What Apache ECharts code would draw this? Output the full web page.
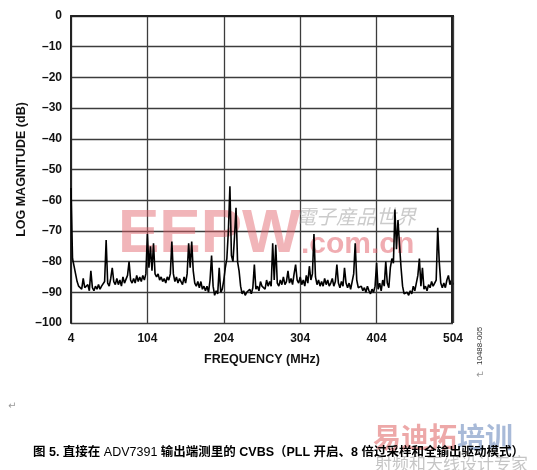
<!DOCTYPE html>
<html><head><meta charset="utf-8">
<script src="https://cdn.jsdelivr.net/npm/echarts@6/dist/echarts.min.js"></script>
<style>html,body{margin:0;padding:0;background:#fff}#c{width:537px;height:470px}</style>
</head><body><div id="c"></div>
<script>
// Frequency samples: start 4 MHz, 2 MHz apart
const startMHz = 4;
const stepMHz = 2;
// Magnitude (dB)
const magnitudeDb = [
 -56,-79,-81.5,-84,-86.5,-88,-87.5,-89,-85.5,-88.5,
 -89,-87.5,-89.5,-83,-88.5,-89.5,-88,-89,-87.5,-89,
 -88,-88.5,-86.5,-73,-87,-88,-85.5,-82,-86.5,-87.5,
 -85.5,-87.5,-86,-88,-85,-87,-86.5,-84.5,-80,-86,
 -87,-85.5,-87,-84.5,-86.5,-85,-86.5,-84.5,-86,-84,
 -71,-82,-75,-83,-74,-84,-85,-84,-86,-85,
 -86.5,-85.5,-87,-85,-86,-84,-73.5,-84,-86.5,-85,
 -87,-85.5,-86.5,-87.5,-85,-87,-84,-74,-82,-73.5,
 -83,-87,-88,-86.5,-88.5,-86.5,-89,-88,-89.5,-88,
 -90,-86,-78,-88,-91,-89.5,-90.5,-82,-90,-89,
 -86,-82,-79,-70,-55.5,-78,-80,-72,-62.5,-80,
 -83,-88,-90.5,-89.5,-91,-90,-90.5,-89,-90.5,-88.5,
 -81,-89,-88,-89.5,-86.5,-88,-87.5,-89,-86,-88,
 -86.5,-88,-74,-86,-74.5,-87,-88,-86,-87.5,-85,
 -87.5,-86.5,-83,-87,-85.5,-87.5,-84,-81,-86,-87,
 -85,-87.5,-86,-88,-84.5,-87,-81.5,-86,-84,-71,
 -85,-87.5,-86,-88,-86.5,-88,-85.5,-87.5,-86,-88,
 -87,-85.5,-88,-86.5,-81,-87,-88.5,-86.5,-88,-82,
 -87,-88.5,-87,-89,-86.5,-84,-74,-86,-88.5,-89,
 -88,-89.5,-88.5,-90,-88,-89.5,-90.5,-89,-90,-88,
 -80.5,-89,-87,-89.5,-86,-88,-80,-87,-88.5,-82,
 -79,-80.5,-63,-76,-66.5,-74.5,-82,-88,-90.5,-91,
 -90,-91,-89.5,-90.5,-88,-89.5,-87,-84.5,-79,-88,
 -82,-89,-88,-89.5,-87.5,-88.5,-86.5,-88,-87,-86,
 -69,-80,-87,-88.5,-87,-88.5,-86,-84.5,-87.5,-86,-87.5
];
const xTicks = [4, 104, 204, 304, 404, 504];
const yTicks = [0, -10, -20, -30, -40, -50, -60, -70, -80, -90, -100];

const seriesData = magnitudeDb.map((v, i) => [startMHz + i * stepMHz, v]);
const F = '"Liberation Sans", Arial, sans-serif';
const CJK = '"Liberation Sans", "Noto Sans CJK SC", sans-serif';
const chart = echarts.init(document.getElementById('c'));
chart.setOption({
  animation: false,
  backgroundColor: '#fff',
  grid: { left: 71, top: 16, right: 84, bottom: 147 },
  xAxis: {
    type: 'value', min: xTicks[0], max: xTicks[xTicks.length - 1], interval: 100,
    name: 'FREQUENCY (MHz)', nameLocation: 'middle', nameGap: 30,
    nameTextStyle: { fontFamily: F, fontWeight: 'bold', fontSize: 12.5, color: '#111' },
    axisLine: { show: true, lineStyle: { color: '#222', width: 2 } },
    axisTick: { show: false },
    axisLabel: { fontFamily: F, fontWeight: 'bold', fontSize: 12, color: '#111', margin: 10 },
    splitLine: { show: true, lineStyle: { color: '#3c3c3c', width: 1.3 } }
  },
  yAxis: {
    type: 'value', min: yTicks[yTicks.length - 1], max: yTicks[0], interval: 10,
    name: 'LOG MAGNITUDE (dB)', nameLocation: 'middle', nameGap: 43, nameRotate: 90,
    nameMoveOverlap: false,
    nameTextStyle: { fontFamily: F, fontWeight: 'bold', fontSize: 12.5, color: '#111' },
    axisLine: { show: true, lineStyle: { color: '#222', width: 2 } },
    axisTick: { show: false },
    axisLabel: { fontFamily: F, fontWeight: 'bold', fontSize: 12, color: '#111', margin: 9,
      formatter: v => String(v).replace('-', '\u2013') },
    splitLine: { show: true, lineStyle: { color: '#3c3c3c', width: 1.3 } }
  },
  series: [{
    type: 'line', data: seriesData, symbol: 'none',
    lineStyle: { color: '#000', width: 1.6 }, z: 3
  }],
  graphic: [
    { type: 'rect', right: 84, top: 16, shape: { width: 2, height: 307 }, style: { fill: '#222' }, z: 10 },
    { type: 'rect', left: 71, top: 15, shape: { width: 383, height: 2 }, style: { fill: '#222' }, z: 10 },
    { type: 'text', left: 118, top: 204, z: 1, silent: true,
      style: { text: 'EEPW', font: 'bold 62px ' + F, fill: 'rgba(225,90,100,0.45)' } },
    { type: 'text', left: 296, top: 206, z: 1, silent: true,
      style: { text: '電子産品世界', font: 'italic 20px "Noto Sans CJK TC", sans-serif', fill: 'rgba(140,140,140,0.45)' } },
    { type: 'text', left: 301, top: 230, z: 1, silent: true,
      style: { text: '.com.cn', font: 'bold 30px ' + F, fill: 'rgba(225,90,100,0.5)' } },
    { type: 'text', x: 480, y: 365, rotation: Math.PI / 2, silent: true,
      style: { text: '10488-005', font: '8px ' + F, fill: '#333', x: 0, y: 0, textAlign: 'left', textVerticalAlign: 'middle' } },
    { type: 'text', left: 476, top: 370, silent: true,
      style: { text: '\u21b5', font: '10px "DejaVu Sans"', fill: '#999' } },
    { type: 'text', left: 8, top: 401, silent: true,
      style: { text: '\u21b5', font: '10px "DejaVu Sans"', fill: '#999' } },
    { type: 'text', left: 373, top: 423, silent: true, z: 1,
      style: { text: '{a|易迪拓}{b|培训}', rich: {
        a: { font: 'bold 28px "Noto Sans CJK SC"', fill: 'rgba(225,110,110,0.6)', color: 'rgba(225,110,110,0.6)' },
        b: { font: 'bold 28px "Noto Sans CJK SC"', fill: 'rgba(110,140,190,0.6)', color: 'rgba(110,140,190,0.6)' } } } },
    { type: 'text', left: 375, top: 455, silent: true, z: 1,
      style: { text: '射频和天线设计专家', font: '17px "Noto Sans CJK SC"', fill: 'rgba(150,150,150,0.55)' } },
    { type: 'text', left: 33, top: 446, silent: true, z: 5,
      style: { text: '{k|图 5. 直接在 }{bl|ADV7391}{k| 输出端测里的 CVBS（PLL 开启、8 倍过采样和全输出驱动模式）}',
        rich: {
          k: { fontFamily: CJK, fontWeight: 'bold', fontSize: 12.5, color: '#111' },
          bl: { fontFamily: CJK, fontSize: 12.5, color: '#3f82b8' }
        } } }
  ]
});
</script>
</body></html>
